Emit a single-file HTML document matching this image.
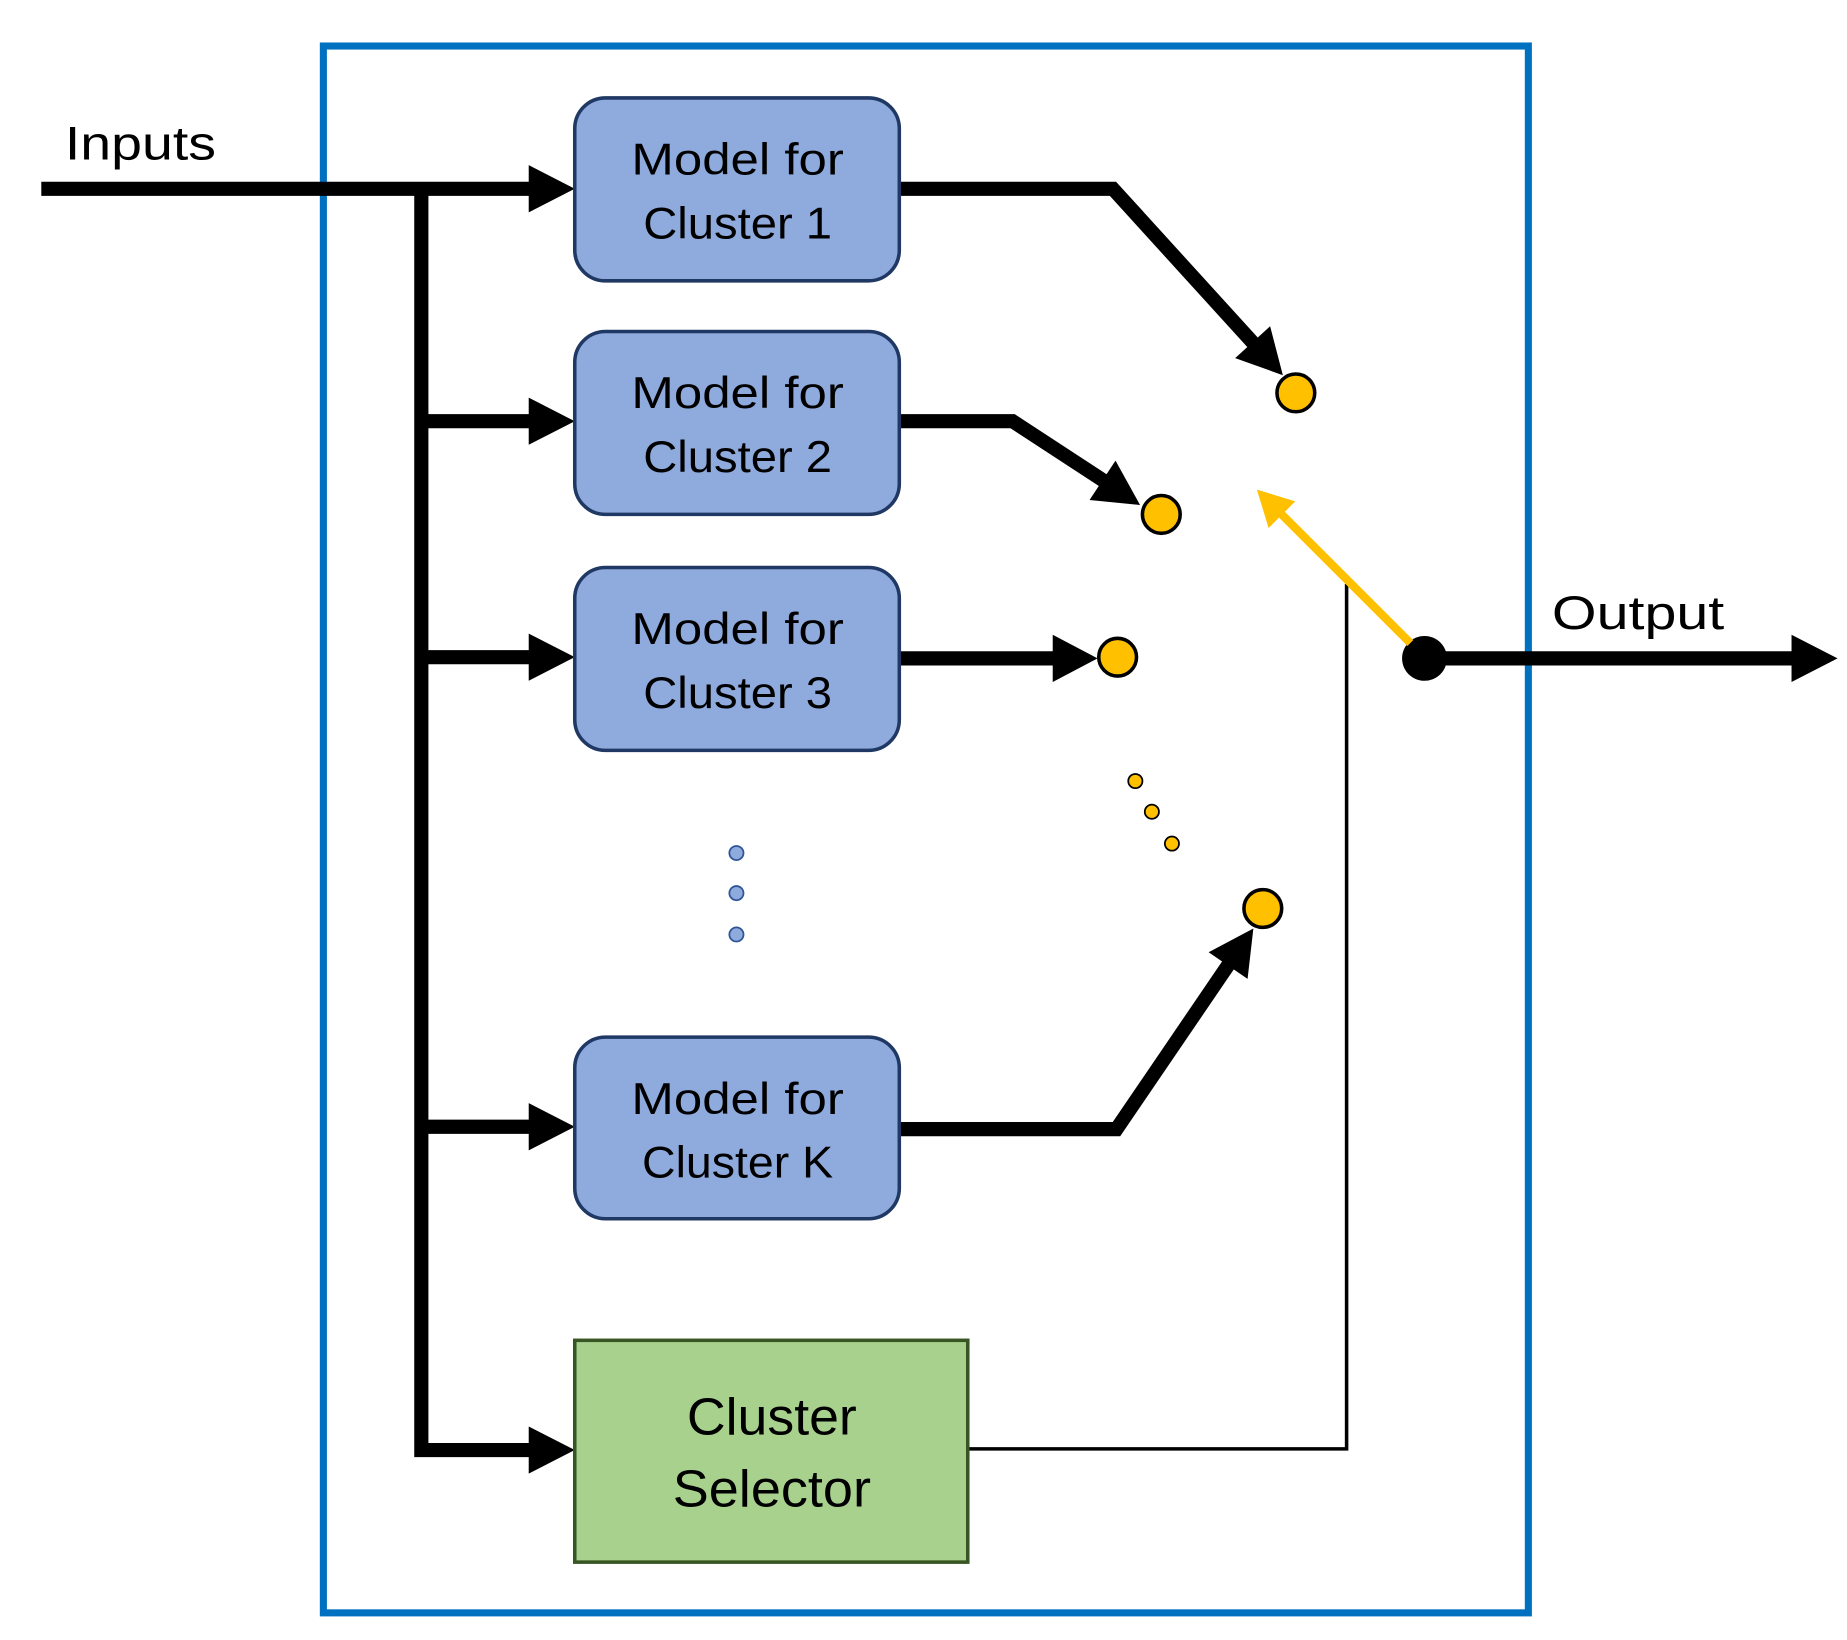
<!DOCTYPE html>
<html><head><meta charset="utf-8"><style>
html,body{margin:0;padding:0;background:#fff;}
svg{display:block;}
text{font-family:"Liberation Sans",sans-serif;fill:#000;}
</style></head><body>
<svg width="1847" height="1640" viewBox="0 0 1565 1390" preserveAspectRatio="none" xmlns="http://www.w3.org/2000/svg">
<rect x="274" y="39" width="1021" height="1328" fill="none" stroke="#0070C0" stroke-width="6"/>
<text x="55" y="135" font-size="40" textLength="128" lengthAdjust="spacingAndGlyphs">Inputs</text>
<text x="1315" y="533" font-size="40" textLength="146" lengthAdjust="spacingAndGlyphs">Output</text>
<g fill="none" stroke="#000" stroke-width="12" stroke-linejoin="miter">
<line x1="35" y1="160" x2="452" y2="160"/>
<polyline points="357,160 357,1229 452,1229"/>
<line x1="357" y1="357" x2="452" y2="357"/>
<line x1="357" y1="557" x2="452" y2="557"/>
<line x1="357" y1="955" x2="452" y2="955"/>
<polyline points="762,160 943,160 1063,292"/>
<polyline points="762,357 858,357 936,408"/>
<line x1="762" y1="558" x2="896" y2="558"/>
<polyline points="762,957 946,957 1042,816"/>
<line x1="1207" y1="558" x2="1522" y2="558"/>
</g>
<g fill="#000">
<polygon points="448,140 487,160 448,180"/>
<polygon points="448,337 487,357 448,377"/>
<polygon points="448,537 487,557 448,577"/>
<polygon points="448,935 487,955 448,975"/>
<polygon points="448,1209 487,1229 448,1249"/>
<polygon points="892,538 930,558 892,578"/>
<polygon points="1518,538 1557,558 1518,578"/>
<polygon points="1087,318 1076.2,276.5 1046.6,303.5"/>
<polygon points="966,428 945.2,390.4 923.2,423.8"/>
<polygon points="1062,787 1057.1,829.7 1024.1,807.1"/>
<circle cx="1207" cy="558" r="19"/>
</g>
<polyline points="820,1228 1141,1228 1141,495" fill="none" stroke="#000" stroke-width="3"/>
<line x1="1195" y1="545" x2="1086" y2="436" stroke="#FFC000" stroke-width="7"/>
<polygon points="1065,415 1097.5,424.9 1074.9,447.5" fill="#FFC000"/>
<g fill="#FFC000" stroke="#000" stroke-width="3">
<circle cx="1098" cy="333" r="16"/>
<circle cx="984" cy="436" r="16"/>
<circle cx="947" cy="557" r="16"/>
<circle cx="1070" cy="770" r="16"/>
</g>
<g fill="#FFC000" stroke="#000" stroke-width="1.5">
<circle cx="962" cy="662" r="6"/>
<circle cx="976" cy="688" r="6"/>
<circle cx="993" cy="715" r="6"/>
</g>
<g fill="#8FAADC" stroke="#2F5597" stroke-width="1.5">
<circle cx="624" cy="723" r="6"/>
<circle cx="624" cy="757" r="6"/>
<circle cx="624" cy="792" r="6"/>
</g>
<g fill="#8FAADC" stroke="#203864" stroke-width="3">
<rect x="487" y="83" width="275" height="155" rx="26"/>
<rect x="487" y="281" width="275" height="155" rx="26"/>
<rect x="487" y="481" width="275" height="155" rx="26"/>
<rect x="487" y="879" width="275" height="154" rx="26"/>
</g>
<rect x="487" y="1136" width="333" height="188" fill="#A9D18E" stroke="#375623" stroke-width="3"/>
<g font-size="38" text-anchor="middle">
<text x="625" y="148" textLength="180" lengthAdjust="spacingAndGlyphs">Model for</text>
<text x="625" y="202" textLength="160" lengthAdjust="spacingAndGlyphs">Cluster 1</text>
<text x="625" y="346" textLength="180" lengthAdjust="spacingAndGlyphs">Model for</text>
<text x="625" y="400" textLength="160" lengthAdjust="spacingAndGlyphs">Cluster 2</text>
<text x="625" y="546" textLength="180" lengthAdjust="spacingAndGlyphs">Model for</text>
<text x="625" y="600" textLength="160" lengthAdjust="spacingAndGlyphs">Cluster 3</text>
<text x="625" y="944" textLength="180" lengthAdjust="spacingAndGlyphs">Model for</text>
<text x="625" y="998" textLength="162" lengthAdjust="spacingAndGlyphs">Cluster K</text>
</g>
<g font-size="44" text-anchor="middle">
<text x="654" y="1216" textLength="144" lengthAdjust="spacingAndGlyphs">Cluster</text>
<text x="654" y="1277" textLength="168" lengthAdjust="spacingAndGlyphs">Selector</text>
</g>
</svg>
</body></html>
